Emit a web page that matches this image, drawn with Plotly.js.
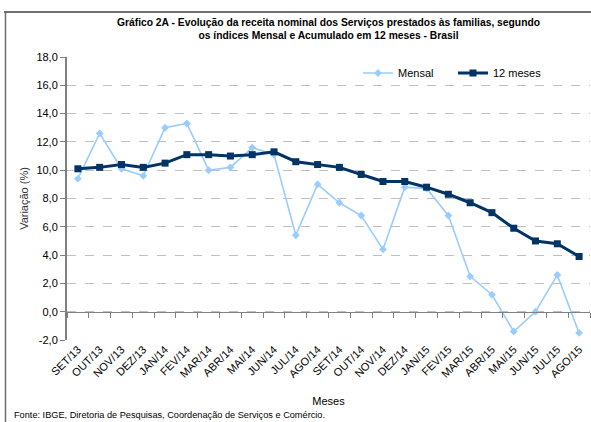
<!DOCTYPE html>
<html>
<head>
<meta charset="utf-8">
<script src="https://cdn.plot.ly/plotly-3.0.1.min.js"></script>
<style>html,body{margin:0;padding:0;background:#fff;}#chart{width:591px;height:422px;}</style>
</head>
<body>
<div id="chart"></div>
<script>
const months = ["SET/13","OUT/13","NOV/13","DEZ/13","JAN/14","FEV/14","MAR/14","ABR/14","MAI/14","JUN/14","JUL/14","AGO/14","SET/14","OUT/14","NOV/14","DEZ/14","JAN/15","FEV/15","MAR/15","ABR/15","MAI/15","JUN/15","JUL/15","AGO/15"];
const mensal = [9.4,12.6,10.1,9.6,13.0,13.3,10.0,10.2,11.6,11.1,5.4,9.0,7.7,6.8,4.4,8.8,8.7,6.8,2.5,1.2,-1.4,0.0,2.6,-1.5];
const acumulado12 = [10.1,10.2,10.4,10.2,10.5,11.1,11.1,11.0,11.1,11.3,10.6,10.4,10.2,9.7,9.2,9.2,8.8,8.3,7.7,7.0,5.9,5.0,4.8,3.9];
const yTickVals = [-2,0,2,4,6,8,10,12,14,16,18];
const yTickText = ["-2,0","0,0","2,0","4,0","6,0","8,0","10,0","12,0","14,0","16,0","18,0"];

const baseFont = "'Liberation Sans', Arial, sans-serif";

const traces = [
  {
    x: months, y: mensal, name: "Mensal", type: "scatter", mode: "lines+markers",
    xaxis: "x", yaxis: "y",
    line: {color: "#99CCFF", width: 1.6},
    marker: {symbol: "diamond", size: 6, color: "#99CCFF"}
  },
  {
    x: months, y: acumulado12, name: "12 meses", type: "scatter", mode: "lines+markers",
    xaxis: "x2", yaxis: "y",
    line: {color: "#003366", width: 3},
    marker: {symbol: "square", size: 7, color: "#003366"}
  }
];

const W = 591, H = 422, mL = 67, mR = 1, mT = 57, mB = 82;
const pw = W - mL - mR, ph = H - mT - mB;
const px = v => (v - mL) / pw;
const py = v => (H - mB - v) / ph;

const layout = {
  width: W, height: H,
  margin: {l: mL, r: mR, t: mT, b: mB, pad: 0},
  paper_bgcolor: "#ffffff", plot_bgcolor: "#ffffff",
  separators: ",.",
  font: {family: baseFont, size: 11, color: "#000"},
  title: {
    text: "<b>Gráfico 2A - Evolução da receita nominal dos Serviços prestados às familias, segundo<br>os índices Mensal e Acumulado em 12 meses - Brasil</b>",
    font: {family: baseFont, size: 10.3, color: "#000"},
    xref: "paper", x: 0.5, xanchor: "center",
    yref: "container", y: 1 - 26 / H, yanchor: "top"
  },
  showlegend: true,
  legend: {
    orientation: "h", x: px(358), xanchor: "left", y: py(73), yanchor: "middle",
    font: {family: baseFont, size: 11, color: "#000"},
    bgcolor: "rgba(0,0,0,0)", itemwidth: 30, tracegroupgap: 0,
    entrywidth: 50, entrywidthmode: "pixels"
  },
  xaxis: {
    type: "category", categoryarray: months, range: [-0.5, 23.5],
    showgrid: false, zeroline: false, showline: false, ticks: "",
    tickangle: -45, tickfont: {family: baseFont, size: 11, color: "#000"},
    title: {text: "Meses", font: {family: baseFont, size: 11, color: "#000"}, standoff: 18},
    automargin: false, fixedrange: true
  },
  xaxis2: {
    type: "category", categoryarray: months, range: [-0.5, 23.5],
    overlaying: "x", anchor: "free", position: 0.1, side: "bottom",
    showgrid: false, zeroline: false, showline: true, linecolor: "#808080", linewidth: 1.5,
    ticks: "outside", ticklen: 5, tickcolor: "#808080", tickwidth: 1, tickson: "boundaries",
    showticklabels: false, automargin: false, fixedrange: true
  },
  yaxis: {
    range: [-2, 18], tickmode: "array", tickvals: yTickVals, ticktext: yTickText,
    showgrid: true, gridcolor: "#c0c0c0", gridwidth: 1, griddash: "dash",
    zeroline: false, showline: true, linecolor: "#808080", linewidth: 2,
    ticks: "outside", ticklen: 5, tickcolor: "#808080", tickwidth: 1,
    tickfont: {family: baseFont, size: 11, color: "#000"},
    title: {text: "Variação (%)", font: {family: baseFont, size: 11, color: "#333"}, standoff: 6},
    automargin: false, fixedrange: true
  },
  shapes: [
    {type: "line", xref: "paper", yref: "paper", x0: px(4), x1: px(591), y0: py(12), y1: py(12), line: {color: "#6e6e6e", width: 2}},
    {type: "line", xref: "paper", yref: "paper", x0: px(5.5), x1: px(5.5), y0: py(12), y1: py(422), line: {color: "#6e6e6e", width: 1.5}}
  ],
  annotations: [
    {text: "Fonte: IBGE, Diretoria de Pesquisas, Coordenação de Serviços e Comércio.", xref: "paper", yref: "paper",
     x: px(12), y: py(415), xanchor: "left", yanchor: "middle", showarrow: false,
     font: {family: baseFont, size: 9.2, color: "#000"}}
  ]
};

Plotly.newPlot("chart", traces, layout, {displayModeBar: false, staticPlot: true});
</script>
</body>
</html>
